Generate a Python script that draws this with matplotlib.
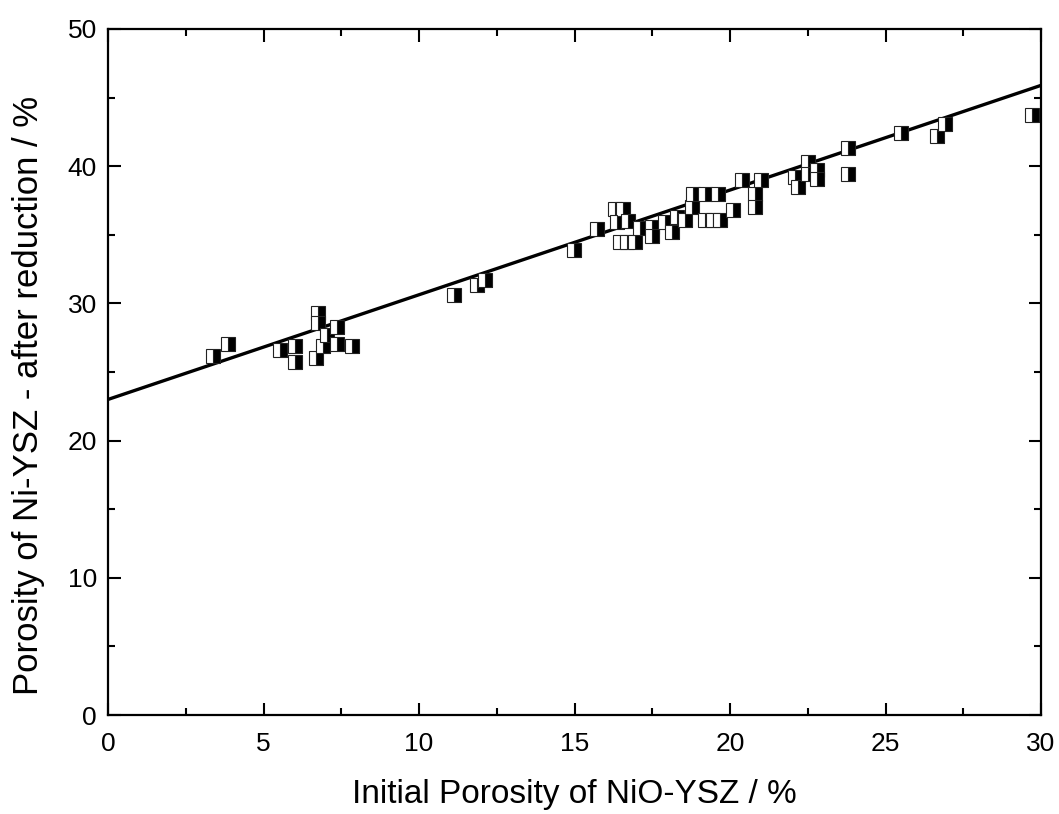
import numpy as np
import matplotlib
matplotlib.use("Agg")
import matplotlib.pyplot as plt
from matplotlib.ticker import MultipleLocator

plt.rcParams['font.family'] = ['Liberation Sans', 'DejaVu Sans']

# 初始孔隙率 (NiO-YSZ) 与还原后孔隙率 (Ni-YSZ)
initial_porosity = [3.38, 3.86, 5.53, 6.01, 6.01, 6.75, 6.75, 6.69, 6.91, 7.04, 7.36, 7.36, 7.85,
                    11.13, 11.86, 12.12,
                    14.98, 15.72, 16.30, 16.56, 16.37, 16.72, 16.46, 16.69, 16.95, 17.10, 17.50, 17.50,
                    17.90, 18.13, 18.30, 18.55, 18.78, 18.80, 19.20, 19.20, 19.45, 19.68, 19.60, 20.10,
                    20.80, 20.80, 20.40, 21.00,
                    22.10, 22.20, 22.50, 22.50, 22.80, 22.80, 23.80, 23.80, 25.50, 26.65, 26.90, 29.70]
reduced_porosity = [26.17, 27.04, 26.60, 26.90, 25.73, 29.30, 28.57, 26.02, 26.90, 27.70, 28.28, 27.04, 26.90,
                    30.60, 31.34, 31.70,
                    33.90, 35.40, 36.90, 36.90, 35.90, 36.00, 34.50, 34.50, 34.50, 35.50, 35.60, 34.90,
                    35.90, 35.20, 36.30, 36.10, 37.00, 38.00, 38.00, 36.10, 36.10, 36.10, 38.00, 36.80,
                    38.00, 37.00, 39.00, 39.00,
                    39.20, 38.50, 40.30, 39.40, 39.70, 39.10, 41.30, 39.40, 42.40, 42.20, 43.10, 43.70]

# 线性拟合线
fit_intercept = 23.0
fit_slope = 0.763


def main():
	fig = plt.figure(figsize=(10.59, 8.14), dpi=100)
	ax = fig.add_axes([0.102, 0.1216, 0.881, 0.8428])

	xs = np.array([0, 30])
	ax.plot(xs, fit_intercept + fit_slope * xs, color="black", linewidth=2.4, zorder=2)

	ax.plot(initial_porosity, reduced_porosity, linestyle="none", marker="s",
			fillstyle="right", markersize=9.5, markerfacecolor="black",
			markerfacecoloralt="white", markeredgecolor="#222222",
			markeredgewidth=0.8, zorder=3)

	ax.set_xlim(0, 30)
	ax.set_ylim(0, 50)
	ax.xaxis.set_major_locator(MultipleLocator(5))
	ax.xaxis.set_minor_locator(MultipleLocator(2.5))
	ax.yaxis.set_major_locator(MultipleLocator(10))
	ax.yaxis.set_minor_locator(MultipleLocator(5))

	ax.tick_params(which="both", direction="in", top=True, right=True, width=1.5, labelsize=19)
	ax.tick_params(which="major", length=9)
	ax.tick_params(which="minor", length=5)
	ax.tick_params(axis="x", pad=12)
	ax.tick_params(axis="y", pad=8)
	for sp in ax.spines.values():
		sp.set_linewidth(1.6)

	ax.set_xlabel("Initial Porosity of NiO-YSZ / %", fontsize=24, labelpad=17)
	ax.set_ylabel("Porosity of Ni-YSZ - after reduction / %", fontsize=25, labelpad=16)
	ax.yaxis.label.set_y(0.466)

	plt.savefig("out.png", dpi=100)


if __name__ == "__main__":
	main()
